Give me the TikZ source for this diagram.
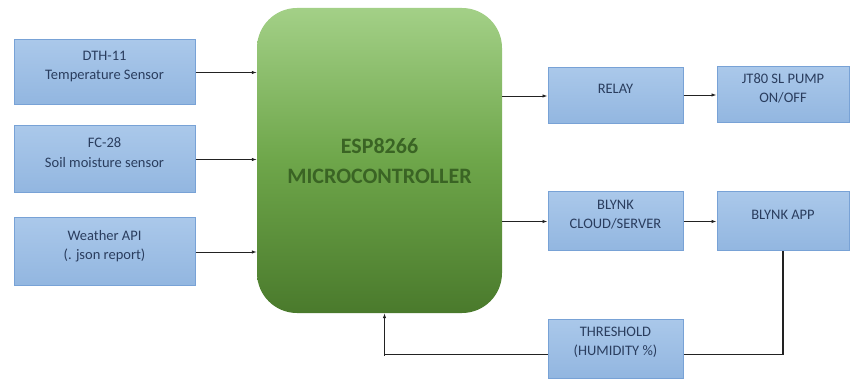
\documentclass[tikz,border=0pt]{standalone}
\usepackage{fontspec}
\setmainfont{Carlito}
\usepackage{xcolor}
\usetikzlibrary{arrows.meta,calc,positioning}
\definecolor{BoxTop}{HTML}{AAC8EA}
\definecolor{BoxBot}{HTML}{92B6E0}
\definecolor{BoxLine}{HTML}{78A2D6}
\definecolor{BoxInk}{HTML}{2A3D5E}
\definecolor{McuTop}{HTML}{A3D087}
\definecolor{McuMid}{HTML}{6EA64A}
\definecolor{McuBot}{HTML}{4A7A2C}
\definecolor{McuInk}{HTML}{3A6424}
\definecolor{Wire}{HTML}{222222}

\begin{document}
\begin{tikzpicture}[x=1pt,y=-1pt,
  block/.style={draw=BoxLine,line width=1pt,top color=BoxTop,bottom color=BoxBot,inner sep=0pt,align=center,
    font=\fontsize{14.5}{19.5}\selectfont,text=BoxInk,text depth=14pt},
  mcu/.style={rounded corners=40pt,top color=McuTop,bottom color=McuBot,middle color=McuMid,inner sep=0pt,
    align=center,font=\fontsize{22}{30}\selectfont\bfseries,text=McuInk},
  arr/.style={-{Latex[length=5pt,width=3.5pt]},line width=0.9pt,color=Wire},
  wire/.style={line width=1.3pt,color=Wire}
]
\useasboundingbox (0,0) rectangle (851,379);

% sensors
\node[block,minimum width=181pt,minimum height=65pt] (dth) at (104.5,72.5) {DTH-11\\Temperature Sensor};
\node[block,minimum width=181pt,minimum height=67pt] (fc) at (104.5,159.5) {FC-28\\Soil moisture sensor};
\node[block,minimum width=181pt,minimum height=68pt] (api) at (104.5,252) {Weather API\\(. json report)};

% controller
\node[mcu,minimum width=245pt,minimum height=305pt] (esp) at (379.5,160.5) {ESP8266\\MICROCONTROLLER};

% outputs
\node[block,minimum width=135pt,minimum height=56pt] (relay) at (615.5,96) {RELAY};
\node[block,minimum width=132pt,minimum height=56pt] (pump) at (783,95) {JT80 SL PUMP\\ON/OFF};
\node[block,minimum width=135pt,minimum height=59pt] (cloud) at (615.5,221.5) {BLYNK\\CLOUD/SERVER};
\node[block,minimum width=132pt,minimum height=59pt] (app) at (783,221.5) {BLYNK APP};
\node[block,minimum width=135pt,minimum height=59pt] (thr) at (615.5,348.5) {THRESHOLD\\(HUMIDITY \%)};

\draw[arr] (dth.east) -- (dth.east -| esp.west);
\draw[arr] (fc.east) -- (fc.east -| esp.west);
\draw[arr] (api.east) -- (api.east -| esp.west);
\draw[arr] (esp.east |- relay.west) -- (relay.west);
\draw[arr] (relay.east |- pump.west) -- (pump.west);
\draw[arr] (esp.east |- cloud.west) -- (cloud.west);
\draw[arr] (cloud.east) -- (app.west);

% feedback loop
\coordinate (back) at ([xshift=5pt]esp.south);
\coordinate (turn) at ([yshift=-42pt]back);
\draw[wire] (app.south) |- ([yshift=-6pt]thr.east);
\draw[wire] ([yshift=-6pt]thr.west) -| (turn);
\draw[arr] (turn) -- (back);
\end{tikzpicture}
\end{document}
